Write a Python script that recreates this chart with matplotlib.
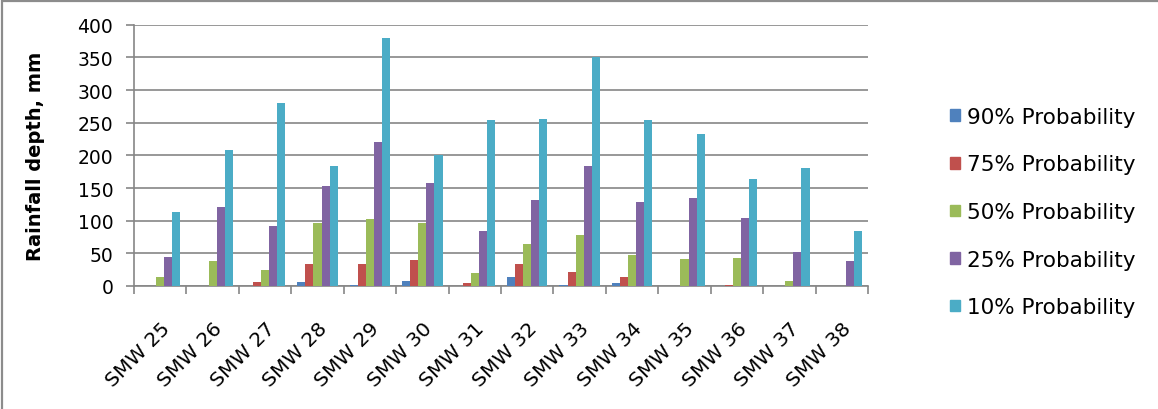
import numpy as np
import matplotlib
matplotlib.use("Agg")
import matplotlib.pyplot as plt
from matplotlib.patches import Rectangle, Patch

plt.rcParams['font.family'] = ['DejaVu Sans']

weeks = ["SMW 25", "SMW 26", "SMW 27", "SMW 28", "SMW 29", "SMW 30", "SMW 31",
         "SMW 32", "SMW 33", "SMW 34", "SMW 35", "SMW 36", "SMW 37", "SMW 38"]

# rainfall depth (mm) at each probability level
p90 = [0, 0, 0, 6, 2, 8, 0, 14, 2, 5, 0, 0, 0, 0]
p75 = [0, 0, 6, 34, 34, 40, 5, 34, 22, 14, 0, 2, 0, 0]
p50 = [14, 38, 24, 96, 102, 96, 20, 65, 78, 48, 41, 43, 8, 0]
p25 = [44, 121, 92, 153, 220, 157, 84, 131, 183, 128, 134, 104, 52, 38]
p10 = [113, 208, 280, 183, 379, 200, 254, 256, 350, 254, 233, 164, 180, 84]

series = [p90, p75, p50, p25, p10]
labels = ["90% Probability", "75% Probability", "50% Probability",
          "25% Probability", "10% Probability"]
colors = ["#4F81BD", "#C0504D", "#9BBB59", "#8064A2", "#4BACC6"]

fig = plt.figure(figsize=(11.58, 4.10), dpi=100)
ax = fig.add_axes([134 / 1158, 1 - 287 / 410, 734 / 1158, (287 - 25.7) / 410])

x = np.arange(len(weeks))
w = 1 / 6.5
for i, (vals, col) in enumerate(zip(series, colors)):
    ax.bar(x + (i - 2) * w, vals, width=w, color=col, zorder=3)

ax.set_xlim(-0.5, len(weeks) - 0.5)
ax.set_ylim(0, 400)
ax.set_yticks(np.arange(0, 401, 50))
ax.yaxis.grid(True, color="#868686", linewidth=1.2, zorder=0)

for s in ["top", "right"]:
    ax.spines[s].set_visible(False)
for s in ["left", "bottom"]:
    ax.spines[s].set_color("#868686")
    ax.spines[s].set_linewidth(1.2)

# tick marks between categories, labels at centres
ax.set_xticks(x)
ax.set_xticks(np.arange(-0.5, len(weeks)), minor=True)
ax.set_xticklabels(weeks, rotation=45, ha="right", va="top",
                   rotation_mode="anchor", fontsize=14.5)
ax.tick_params(axis="x", which="major", length=0, pad=23)
ax.tick_params(axis="x", which="minor", length=6, width=1.2, color="#868686")
ax.tick_params(axis="y", length=6, width=1.2, color="#868686", labelsize=13.5, pad=9)

ax.set_ylabel("Rainfall depth, mm", fontsize=14, fontweight="bold")
ax.yaxis.set_label_coords(-0.121, 0.5)

handles = [Patch(facecolor=c, edgecolor=c) for c in colors]
fig.legend(handles, labels, loc="center left",
           bbox_to_anchor=(931 / 1158, 1 - 213 / 410), frameon=False,
           fontsize=15.5, handlelength=0.45, handleheight=0.45,
           handletextpad=0.3, labelspacing=1.28)

# chart border
fig.patches.append(Rectangle((2 / 1158, -0.1), 1.1, 1.1 - 1.5 / 410,
                             transform=fig.transFigure, fill=False,
                             edgecolor="#8C8C8C", linewidth=1.6))

fig.savefig("out.png", dpi=100)
